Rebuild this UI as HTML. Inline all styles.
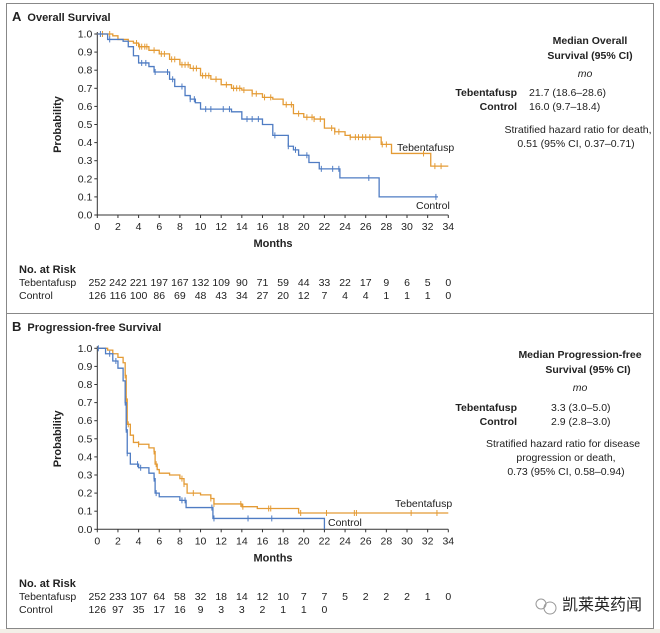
<!DOCTYPE html>
<html><head><meta charset="utf-8"><style>
body{margin:0;background:#fff;width:660px;height:633px;overflow:hidden;font-family:"Liberation Sans","Noto Sans CJK SC",sans-serif}
svg{position:absolute;left:0;top:0}
text{font-family:"Liberation Sans","Noto Sans CJK SC",sans-serif;fill:#222}
</style></head><body>
<svg id="fig" width="660" height="633">
<rect x="0" y="629" width="660" height="4" fill="#f3efe8"/>
<rect x="6.5" y="3.5" width="647" height="625" fill="none" stroke="#888" stroke-width="1"/>
<line x1="6" y1="313.5" x2="654" y2="313.5" stroke="#888"/>
<g id="pa"></g>
<g id="pb"></g>
<g fill="none" stroke="#999" stroke-width="1">
<circle cx="541" cy="604" r="5"/><circle cx="550" cy="608" r="6"/>
</g>
</svg>
<script>
// ---- Data ----
const xTicks=[0,2,4,6,8,10,12,14,16,18,20,22,24,26,28,30,32,34];
const yTicks=[0,0.1,0.2,0.3,0.4,0.5,0.6,0.7,0.8,0.9,1.0];
const osTebT=[0,1.5,2,3,3.5,4,5,6,7,8,9,10,11,12,13,14,15,16,17,18,19,20,21,22,23,24,24.5,27.5,28.5,32.3,34];
const osTebS=[1,0.99,0.97,0.96,0.95,0.93,0.91,0.89,0.86,0.83,0.81,0.77,0.75,0.72,0.70,0.69,0.67,0.65,0.64,0.61,0.56,0.54,0.53,0.48,0.46,0.44,0.43,0.39,0.34,0.27,0.27];
const osTebCens=[0.5,1.2,3.8,4.1,4.3,4.6,4.8,5.5,6.2,6.5,7.2,7.5,8.2,8.5,8.8,9.3,9.6,10.2,10.5,10.8,11.5,12.5,13.2,13.5,13.8,14.2,15,15.4,16.2,16.8,18.3,18.8,19.5,20.3,20.8,21,21.6,22.7,23,23.4,24.5,25,25.3,25.7,26,26.4,27.6,28,31.6,32.7,33.3];
const osCtlT=[0,1,2.5,3,3.5,4,5,5.5,7,7.5,8.5,9,9.5,10,13,14,16,17,18.5,19,19.5,20.5,21.5,23.5,27.3,33];
const osCtlS=[1,0.97,0.96,0.93,0.88,0.84,0.82,0.79,0.75,0.71,0.66,0.64,0.62,0.585,0.57,0.53,0.50,0.44,0.38,0.36,0.33,0.29,0.255,0.205,0.10,0.10];
const osCtlCens=[0.3,1.2,4.3,4.7,5.6,6.8,7.3,8.2,9,9.4,10.5,11,12.2,12.8,14.5,15,15.6,17.2,18.5,19.2,20.3,21.7,22.8,23.4,26.3,32.8];
const pfTebT=[0,1,1.5,2,2.5,2.7,2.8,2.9,3.2,3.5,4,5,5.5,5.6,5.8,6,7,8,8.4,8.7,10,11,11.3,14,15.5,19.5,34];
const pfTebS=[1,0.99,0.97,0.95,0.92,0.85,0.72,0.58,0.52,0.48,0.47,0.45,0.43,0.36,0.33,0.31,0.30,0.28,0.25,0.20,0.19,0.17,0.14,0.125,0.115,0.09,0.09];
const pfTebCens=[2.7,2.8,3,4,5.5,5.7,8.2,8.4,9.3,11,11.3,13.9,14.1,16.6,16.8,19.7,22.2,24.9,25.1,30.4,32.9];
const pfCtlT=[0,0.8,1.5,2,2.5,2.7,2.8,2.9,3.2,4,5,5.5,5.6,6,8,8.6,11.2,22];
const pfCtlS=[1,0.97,0.93,0.89,0.82,0.70,0.55,0.42,0.36,0.34,0.31,0.28,0.20,0.18,0.16,0.12,0.06,0.0];
const pfCtlCens=[0.1,1.2,1.8,2.7,2.8,2.9,3.9,4.2,5.5,5.7,8.2,8.5,11.1,11.3,14.6,16.9];
const osRiskTeb=[252,242,221,197,167,132,109,90,71,59,44,33,22,17,9,6,5,0];
const osRiskCtl=[126,116,100,86,69,48,43,34,27,20,12,7,4,4,1,1,1,0];
const pfRiskTeb=[252,233,107,64,58,32,18,14,12,10,7,7,5,2,2,2,1,0];
const pfRiskCtl=[126,97,35,17,16,9,3,3,2,1,1,0];

const NS='http://www.w3.org/2000/svg';
const ORANGE='#e49b35', BLUE='#4f7cc3';
function mk(parent,tag,attrs,txt){const e=document.createElementNS(NS,tag);for(const k in attrs)e.setAttribute(k,attrs[k]);if(txt!==undefined)e.textContent=txt;parent.appendChild(e);return e;}
function stepAt(T,S,t){let v=S[0];for(let i=0;i<T.length;i++){if(T[i]<=t)v=S[i];}return v;}

function panel(g,cfg){
  const x0=97.3,x1=448.3,yTop=cfg.yTop,yBot=cfg.yBot;
  const sx=t=>x0+(x1-x0)*t/34, sy=p=>yBot-(yBot-yTop)*p;
  const ti=mk(g,'text',{x:12,y:cfg.titleY,'font-size':13,'font-weight':'bold'});
  
  
  mk(ti,'tspan',{},cfg.letter);mk(ti,'tspan',{dx:6,'font-size':11},cfg.title);
  const ax=mk(g,'path',{d:`M${x0} ${yTop-2}V${yBot}H${sx(34)}`,stroke:'#333',fill:'none','stroke-width':1});
  
  
  xTicks.forEach(t=>{
    mk(g,'line',{x1:sx(t),x2:sx(t),y1:yBot,y2:yBot+3,stroke:'#333'});
    const l=mk(g,'text',{x:sx(t),y:yBot+15,'font-size':10.5,'text-anchor':'middle'},t);
    
    
  });
  yTicks.forEach(p=>{
    mk(g,'line',{x1:x0-3,x2:x0,y1:sy(p),y2:sy(p),stroke:'#333'});
    const l=mk(g,'text',{x:x0-5,y:sy(p)+3.5,'font-size':10.5,'text-anchor':'end'},p.toFixed(1));
    
    
  });
  const yt=mk(g,'text',{x:0,y:0,'font-size':11,'font-weight':'bold','text-anchor':'middle',transform:`translate(61 ${(yTop+yBot)/2}) rotate(-90)`},'Probability');
  
  
  const xt=mk(g,'text',{x:273,y:yBot+32,'font-size':11,'font-weight':'bold','text-anchor':'middle'},'Months');
  
  
  cfg.series.forEach(s=>{
    let d=`M${sx(s.T[0])} ${sy(s.S[0])}`;
    for(let i=1;i<s.T.length;i++){d+=`H${sx(s.T[i])}V${sy(s.S[i])}`;}
    const p=mk(g,'path',{d:d,stroke:s.c,fill:'none','stroke-width':1.3});
    
    
    s.cens.forEach(t=>{const y=sy(stepAt(s.T,s.S,t));
      const m=mk(g,'path',{d:`M${sx(t)} ${y-3}v6`,stroke:s.c,'stroke-width':1});
      
      });
    const lb=mk(g,'text',{x:s.lx,y:s.ly,'font-size':10.5},s.label);
    
    
  });
  const rh=mk(g,'text',{x:19,y:cfg.riskY,'font-size':11,'font-weight':'bold'},'No. at Risk');
  
  
  [[cfg.riskTeb,'Tebentafusp',13],[cfg.riskCtl,'Control',26]].forEach(([arr,nm,dy])=>{
    const l=mk(g,'text',{x:19,y:cfg.riskY+dy,'font-size':10.5},nm);
    
    
    arr.forEach((v,i)=>{const n=mk(g,'text',{x:sx(xTicks[i]),y:cfg.riskY+dy,'font-size':10.5,'text-anchor':'middle'},v);
      
      });
  });
  cfg.right.forEach(r=>{const a={x:r[0],y:r[1],'font-size':10.5,'text-anchor':r[3]||'middle'};
    if(r[4]==='b')a['font-weight']='bold'; if(r[4]==='i')a['font-style']='italic';
    const t=mk(g,'text',a,r[2]);
    
    });
}

panel(document.getElementById('pa'),{letter:'A',title:'Overall Survival',titleY:21,yTop:34,yBot:215,
  series:[{name:'tebentafusp',T:osTebT,S:osTebS,cens:osTebCens,c:ORANGE,label:'Tebentafusp',lx:397,ly:151},
          {name:'control',T:osCtlT,S:osCtlS,cens:osCtlCens,c:BLUE,label:'Control',lx:416,ly:209}],
  riskY:273,riskTeb:osRiskTeb,riskCtl:osRiskCtl,
  right:[[590,44,'Median Overall','middle','b'],[590,59,'Survival (95% CI)','middle','b'],[585,77,'mo','middle','i'],
         [517,96,'Tebentafusp','end','b'],[529,96,'21.7 (18.6–28.6)','start'],[517,110,'Control','end','b'],[529,110,'16.0 (9.7–18.4)','start'],
         [578,133,'Stratified hazard ratio for death,'],[576,147,'0.51 (95% CI, 0.37–0.71)']]});
panel(document.getElementById('pb'),{letter:'B',title:'Progression-free Survival',titleY:331,yTop:348.3,yBot:529.3,
  series:[{name:'tebentafusp',T:pfTebT,S:pfTebS,cens:pfTebCens,c:ORANGE,label:'Tebentafusp',lx:395,ly:507},
          {name:'control',T:pfCtlT,S:pfCtlS,cens:pfCtlCens,c:BLUE,label:'Control',lx:328,ly:526}],
  riskY:587,riskTeb:pfRiskTeb,riskCtl:pfRiskCtl,
  right:[[580,358,'Median Progression-free','middle','b'],[588,373,'Survival (95% CI)','middle','b'],[580,391,'mo','middle','i'],
         [517,411,'Tebentafusp','end','b'],[551,411,'3.3 (3.0–5.0)','start'],[517,425,'Control','end','b'],[551,425,'2.9 (2.8–3.0)','start'],
         [563,447,'Stratified hazard ratio for disease'],[566,461,'progression or death,'],[566,475,'0.73 (95% CI, 0.58–0.94)']]});
const wm=mk(document.getElementById('fig'),'text',{x:562,y:610,'font-size':16,fill:'#777','text-anchor':'start'},'凯莱英药闻');


</script>
</body></html>
